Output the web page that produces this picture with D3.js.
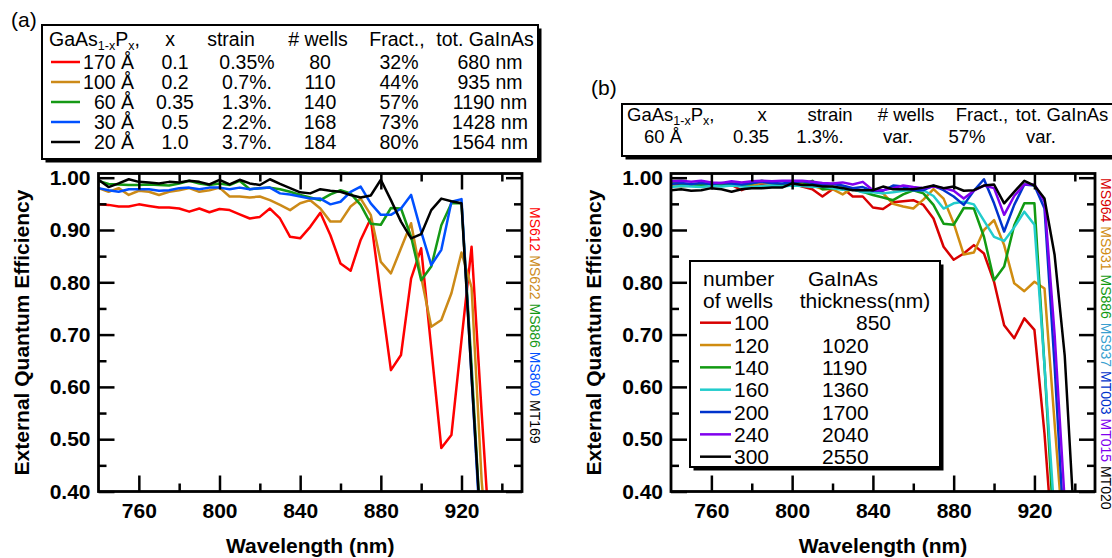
<!DOCTYPE html>
<html>
<head>
<meta charset="utf-8">
<script src="https://cdn.jsdelivr.net/npm/d3@7/dist/d3.min.js"></script>
<style>
body { margin: 0; background: #fff; }
svg { display: block; font-family: "Liberation Sans", Arial, Helvetica, sans-serif; }
</style>
</head>
<body>
<svg width="1112" height="558"></svg>
<script>
// wavelength grid of the measurements (nm)
var wavelength = [740,745,750,755,760,765,770,775,780,785,790,795,800,805,810,815,820,825,830,835,840,845,850,855,860,865,870,875,880,885,890,895,900,905,910,915,920,925,930,935,940];

// panel (a): barrier thickness series
var ms612 = [0.949,0.948,0.945,0.945,0.949,0.946,0.943,0.943,0.941,0.935,0.941,0.934,0.940,0.938,0.930,0.922,0.925,0.941,0.922,0.887,0.884,0.906,0.933,0.890,0.836,0.822,0.881,0.922,0.775,0.632,0.661,0.807,0.865,0.674,0.483,0.508,0.690,0.868,0.550,0.250,0.150];
var ms622 = [0.980,0.973,0.980,0.967,0.975,0.973,0.967,0.973,0.976,0.980,0.973,0.976,0.981,0.964,0.964,0.962,0.964,0.957,0.948,0.938,0.951,0.957,0.941,0.916,0.916,0.945,0.960,0.929,0.839,0.817,0.865,0.913,0.810,0.715,0.728,0.779,0.857,0.790,0.420,0.200,0.100];
var ms886 = [0.994,0.988,0.987,0.986,0.986,0.987,0.986,0.985,0.989,0.994,0.989,0.986,0.989,0.986,0.994,0.978,0.980,0.981,0.978,0.973,0.967,0.962,0.957,0.968,0.976,0.970,0.948,0.912,0.910,0.942,0.941,0.887,0.804,0.830,0.909,0.951,0.951,0.640,0.300,0.200,0.100];
var ms800 = [0.980,0.976,0.973,0.978,0.978,0.978,0.975,0.976,0.980,0.981,0.978,0.981,0.981,0.978,0.981,0.978,0.980,0.981,0.970,0.968,0.964,0.960,0.960,0.949,0.954,0.973,0.983,0.951,0.929,0.929,0.941,0.967,0.897,0.833,0.862,0.954,0.959,0.620,0.280,0.150,0.100];
var mt169 = [0.996,0.982,0.989,0.997,0.992,0.991,0.989,0.992,0.991,0.994,0.992,0.987,0.996,0.987,0.996,0.989,0.986,0.997,0.988,0.980,0.972,0.970,0.978,0.975,0.973,0.967,0.962,0.966,0.996,0.957,0.916,0.884,0.892,0.938,0.960,0.955,0.951,0.620,0.300,0.150,0.100];

// panel (b): number of wells series (MS886 is shared)
var ms964 = [0.989,0.987,0.986,0.985,0.985,0.985,0.986,0.976,0.985,0.986,0.983,0.985,0.989,0.983,0.978,0.964,0.978,0.980,0.964,0.964,0.943,0.940,0.953,0.955,0.957,0.948,0.922,0.868,0.843,0.855,0.871,0.855,0.801,0.718,0.693,0.731,0.709,0.510,0.250,0.150,0.100];
var ms931 = [0.985,0.983,0.985,0.983,0.985,0.988,0.990,0.985,0.985,0.990,0.988,0.986,0.988,0.990,0.985,0.978,0.978,0.968,0.980,0.975,0.975,0.970,0.950,0.945,0.941,0.958,0.978,0.960,0.913,0.853,0.857,0.900,0.919,0.871,0.798,0.783,0.801,0.788,0.530,0.280,0.150];
var ms937 = [0.982,0.984,0.983,0.982,0.984,0.983,0.985,0.983,0.982,0.984,0.985,0.983,0.985,0.984,0.982,0.983,0.980,0.977,0.978,0.972,0.972,0.970,0.972,0.975,0.977,0.976,0.965,0.941,0.951,0.954,0.949,0.918,0.887,0.879,0.905,0.935,0.910,0.640,0.350,0.200,0.100];
var mt003 = [0.988,0.990,0.988,0.990,0.988,0.990,0.989,0.987,0.990,0.992,0.990,0.989,0.991,0.993,0.990,0.986,0.988,0.985,0.980,0.982,0.975,0.975,0.985,0.983,0.976,0.976,0.985,0.976,0.964,0.948,0.975,0.997,0.951,0.897,0.948,0.987,0.985,0.941,0.640,0.300,0.150];
var mt015 = [0.993,0.994,0.992,0.994,0.991,0.990,0.993,0.991,0.993,0.994,0.993,0.994,0.994,0.994,0.992,0.990,0.989,0.991,0.987,0.992,0.976,0.976,0.980,0.985,0.982,0.980,0.983,0.980,0.975,0.960,0.975,0.985,0.980,0.929,0.965,0.987,0.987,0.954,0.700,0.380,0.200];
var mt020 = [0.976,0.978,0.975,0.976,0.980,0.978,0.973,0.978,0.980,0.980,0.981,0.981,0.989,0.986,0.986,0.983,0.983,0.980,0.976,0.976,0.976,0.983,0.978,0.978,0.978,0.981,0.985,0.980,0.983,0.975,0.976,0.985,0.987,0.951,0.973,0.994,0.985,0.960,0.852,0.660,0.320];

var samplesA = ["MS612", "MS622", "MS886", "MS800", "MT169"];
var samplesB = ["MS964", "MS931", "MS886", "MS937", "MT003", "MT015", "MT020"];

// table in panel (a)
var tableHead = ["x", "strain", "# wells", "Fract.,", "tot. GaInAs"];
var barrierA = ["170 Å", "100 Å", "60 Å", "30 Å", "20 Å"];
var compA = ["0.1", "0.2", "0.35", "0.5", "1.0"];
var strainA = ["0.35%", "0.7%.", "1.3%.", "2.2%.", "3.7%."];
var wellsA = ["80", "110", "140", "168", "184"];
var fractA = ["32%", "44%", "57%", "73%", "80%"];
var totalA = ["680 nm", "935 nm", "1190 nm", "1428 nm", "1564 nm"];

// table in panel (b)
var rowB = ["60 Å", "0.35", "1.3%.", "var.", "57%", "var."];

// legend in panel (b)
var wellsB = ["100", "120", "140", "160", "200", "240", "300"];
var thickB = ["850", "1020", "1190", "1360", "1700", "2040", "2550"];

var xMajor = [760, 800, 840, 880, 920],
    xMinor = [780, 820, 860, 900, 940],
    yMajor = [0.4, 0.5, 0.6, 0.7, 0.8, 0.9, 1.0],
    yMinor = [0.45, 0.55, 0.65, 0.75, 0.85, 0.95];

var colorsA = ["#ff0000", "#cc8a18", "#159915", "#0050ff", "#000000"],
    colorsB = ["#d80000", "#d08c10", "#129a12", "#22cccc", "#0033cc", "#8000ee", "#000000"],
    labelColorsB = ["#d80000", "#d08c10", "#129a12", "#3a9fd0", "#0033cc", "#8000ee", "#000000"];

var svg = d3.select("svg");

var xA = d3.scaleLinear().domain([740, 950]).range([98.5, 522]),
    xB = d3.scaleLinear().domain([740, 950]).range([671, 1095]),
    y = d3.scaleLinear().domain([0.40, 1.008]).range([491.5, 173.5]);

var defs = svg.append("defs");

function styleAxis(g) {
  g.select(".domain").remove();
  g.selectAll(".tick line").attr("stroke", "#000").attr("stroke-width", 2.5);
  g.selectAll(".tick text")
      .attr("fill", "#000")
      .attr("font-size", 21)
      .attr("font-weight", "bold")
      .attr("font-family", "'Liberation Sans', Arial, sans-serif");
}

function drawPanel(x, series, colors, id) {
  var left = x.range()[0], right = x.range()[1],
      top = y.range()[1], bottom = y.range()[0];

  defs.append("clipPath")
      .attr("id", id)
      .append("rect")
      .attr("x", left).attr("y", top)
      .attr("width", right - left).attr("height", bottom - top);

  var line = d3.line()
      .x(function(d, i) { return x(wavelength[i]); })
      .y(function(d) { return y(d); });

  svg.append("g")
      .attr("clip-path", "url(#" + id + ")")
      .selectAll("path")
      .data(series)
      .enter().append("path")
      .attr("d", line)
      .style("fill", "none")
      .style("stroke", function(d, i) { return colors[i]; })
      .style("stroke-width", 2.5)
      .style("stroke-linejoin", "round");

  // bottom
  svg.append("g")
      .attr("transform", "translate(0," + bottom + ")")
      .call(d3.axisBottom(x).tickValues(xMajor).tickSizeInner(-16).tickSizeOuter(0).tickPadding(12).tickFormat(d3.format("d")))
      .call(styleAxis);
  svg.append("g")
      .attr("transform", "translate(0," + bottom + ")")
      .call(d3.axisBottom(x).tickValues(xMinor).tickSizeInner(-8).tickSizeOuter(0).tickFormat(""))
      .call(styleAxis);
  // top
  svg.append("g")
      .attr("transform", "translate(0," + top + ")")
      .call(d3.axisTop(x).tickValues(xMajor).tickSizeInner(-16).tickSizeOuter(0).tickFormat(""))
      .call(styleAxis);
  svg.append("g")
      .attr("transform", "translate(0," + top + ")")
      .call(d3.axisTop(x).tickValues(xMinor).tickSizeInner(-8).tickSizeOuter(0).tickFormat(""))
      .call(styleAxis);
  // left
  svg.append("g")
      .attr("transform", "translate(" + left + ",0)")
      .call(d3.axisLeft(y).tickValues(yMajor).tickSizeInner(-16).tickSizeOuter(0).tickPadding(8).tickFormat(d3.format(".2f")))
      .call(styleAxis);
  svg.append("g")
      .attr("transform", "translate(" + left + ",0)")
      .call(d3.axisLeft(y).tickValues(yMinor).tickSizeInner(-8).tickSizeOuter(0).tickFormat(""))
      .call(styleAxis);
  // right
  svg.append("g")
      .attr("transform", "translate(" + right + ",0)")
      .call(d3.axisRight(y).tickValues(yMajor).tickSizeInner(-16).tickSizeOuter(0).tickFormat(""))
      .call(styleAxis);
  svg.append("g")
      .attr("transform", "translate(" + right + ",0)")
      .call(d3.axisRight(y).tickValues(yMinor).tickSizeInner(-8).tickSizeOuter(0).tickFormat(""))
      .call(styleAxis);

  svg.append("rect")
      .attr("x", left).attr("y", top)
      .attr("width", right - left).attr("height", bottom - top)
      .style("fill", "none")
      .style("stroke", "#000")
      .style("stroke-width", 2.8);

  svg.append("text")
      .attr("x", (left + right) / 2)
      .attr("y", 553)
      .attr("text-anchor", "middle")
      .style("font-size", "21px")
      .style("font-weight", "bold")
      .text("Wavelength (nm)");

  svg.append("text")
      .attr("transform", "translate(" + (left - 70) + "," + ((top + bottom) / 2) + ") rotate(-90)")
      .attr("text-anchor", "middle")
      .style("font-size", "21px")
      .style("font-weight", "bold")
      .text("External Quantum Efficiency");
}

function sideLabel(xPos, yPos, names, colors) {
  var t = svg.append("text")
      .attr("transform", "translate(" + xPos + "," + yPos + ") rotate(90)")
      .style("font-size", "14px");
  t.selectAll("tspan")
      .data(names)
      .enter().append("tspan")
      .style("fill", function(d, i) { return colors[i]; })
      .text(function(d, i) { return i < names.length - 1 ? d + " " : d; });
}

function shadowBox(x, y, w, h) {
  svg.append("rect").attr("x", x + 3.5).attr("y", y + 3.5).attr("width", w).attr("height", h).style("fill", "#000");
  svg.append("rect").attr("x", x).attr("y", y).attr("width", w).attr("height", h)
      .style("fill", "#fff").style("stroke", "#000").style("stroke-width", 2);
}

function formula(t) {
  t.append("tspan").text("GaAs");
  t.append("tspan").attr("dy", 4).style("font-size", "12.5px").text("1-x");
  t.append("tspan").attr("dy", -4).text("P");
  t.append("tspan").attr("dy", 4).style("font-size", "12.5px").text("x");
  t.append("tspan").attr("dy", -4).text(",");
}

function cell(x, y, s, anchor, size) {
  svg.append("text")
      .attr("x", x).attr("y", y)
      .attr("text-anchor", anchor || "middle")
      .style("font-size", (size || 19.5) + "px")
      .text(s);
}

drawPanel(xA, [ms612, ms622, ms886, ms800, mt169], colorsA, "clipA");
drawPanel(xB, [ms964, ms931, ms886, ms937, mt003, mt015, mt020], colorsB, "clipB");

sideLabel(529.5, 207, samplesA, colorsA);
sideLabel(1100.5, 178, samplesB, labelColorsB);

// panel labels
svg.append("text").attr("x", 11).attr("y", 27).style("font-size", "21px").text("(a)");
svg.append("text").attr("x", 591).attr("y", 95).style("font-size", "21px").text("(b)");

// table (a)
shadowBox(42, 25, 496, 134);
formula(svg.append("text").attr("x", 49).attr("y", 46).style("font-size", "19.5px"));
var headXA = [170, 231, 318, 397, 485];
tableHead.forEach(function(d, i) { cell(headXA[i], 46, d); });
var colXA = [175, 247, 320, 399, 490];
barrierA.forEach(function(d, i) {
  var base = 69 + 20 * i;
  svg.append("line")
      .attr("x1", 51).attr("x2", 80)
      .attr("y1", base - 7).attr("y2", base - 7)
      .style("stroke", colorsA[i]).style("stroke-width", 2.5);
  cell(134, base, d, "end");
  cell(colXA[0], base, compA[i]);
  cell(colXA[1], base, strainA[i]);
  cell(colXA[2], base, wellsA[i]);
  cell(colXA[3], base, fractA[i]);
  cell(colXA[4], base, totalA[i]);
});

// table (b)
shadowBox(622, 104, 520, 52);
formula(svg.append("text").attr("x", 627).attr("y", 120.5).style("font-size", "18.5px"));
var headXB = [762, 830, 906, 982, 1062];
tableHead.forEach(function(d, i) { cell(headXB[i], 120.5, d, "middle", 18.5); });
var colXB = [663, 751, 820, 898, 967, 1041];
rowB.forEach(function(d, i) { cell(colXB[i], 143, d, "middle", 18.5); });

// legend (b)
shadowBox(690, 261, 250, 206);
cell(703, 285.5, "number", "start", 21);
cell(703, 307.8, "of wells", "start", 21);
cell(843, 285.5, "GaInAs", "middle", 21);
cell(865, 307.8, "thickness(nm)", "middle", 21);
wellsB.forEach(function(d, i) {
  var base = 330.2 + 22.33 * i;
  svg.append("line")
      .attr("x1", 700).attr("x2", 731)
      .attr("y1", base - 7.5).attr("y2", base - 7.5)
      .style("stroke", colorsB[i]).style("stroke-width", 2.5);
  cell(734, base, d, "start", 21);
  cell(thickB[i].length < 4 ? 856 : 822, base, thickB[i], "start", 21);
});
</script>
</body>
</html>
